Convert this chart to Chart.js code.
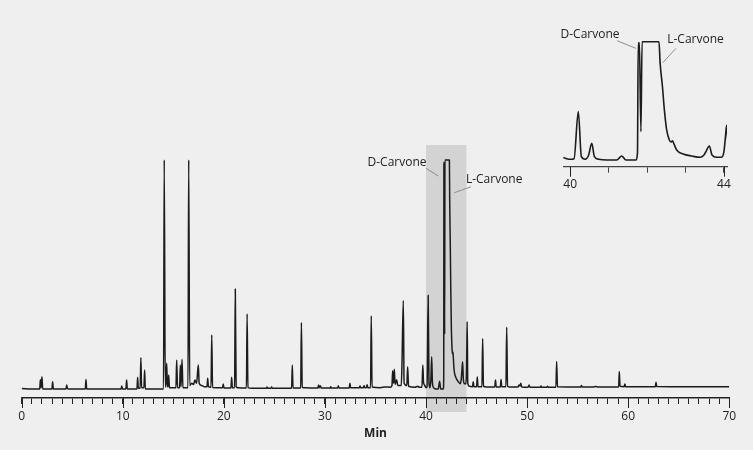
<!DOCTYPE html>
<html>
<head>
<meta charset="utf-8">
<script src="https://cdn.jsdelivr.net/npm/chart.js@4.4.0/dist/chart.umd.min.js"></script>
<style>
  html, body { margin: 0; padding: 0; background: #efefef; }
  #wrap { position: relative; width: 753px; height: 450px; }
  #main { position: absolute; left: 0; top: 0; }
  #inset { position: absolute; left: 540px; top: 0; }
</style>
</head>
<body>
<div id="wrap">
  <canvas id="main" width="753" height="450"></canvas>
  <canvas id="inset" width="213" height="200"></canvas>
</div>
<script>
// chromatogram trace (time in min, signal in % of clipped top)
const timeEarly = [0, 1.0, 1.78, 1.85, 1.92, 2.0, 2.08, 2.99, 3.06, 3.13, 4.38, 4.45, 4.52, 4.6, 6.29, 6.36, 6.43,
  9.83, 9.9, 9.97, 10.31, 10.38, 10.45, 11.4, 11.47, 11.54, 11.72, 11.79, 11.86, 12.09, 12.16, 12.23, 13.95];
const signalEarly = [0.2, 0, 0, 4.0, 0.5, 5.4, 0, 0, 3.2, 0, 0, 1.7, 0.3, 0, 0, 4.2, 0,
  0, 1.3, 0, 0, 3.9, 0, 0, 5.1, 0.3, 0.3, 13.7, 0.5, 0.5, 8.3, 0, 0];

const timeMid = [14.03, 14.1, 14.2, 14.27, 14.34, 14.42, 14.48, 14.54, 14.62, 15.26, 15.33, 15.42, 15.62, 15.69, 15.76,
  15.86, 15.95, 16.45, 16.52, 16.62, 16.82, 17.0, 17.14, 17.3, 17.47, 17.56, 17.8, 18.1, 18.33, 18.4, 18.47,
  18.73, 18.8, 18.88, 19.87, 19.94, 20.01, 20.7, 20.77, 20.84, 21.06, 21.13, 21.21, 21.4, 22.23, 22.3, 22.38, 22.8,
  24.2, 24.27, 24.34, 24.65, 24.72, 24.79, 26.7, 26.77, 26.84, 27.6, 27.67, 27.75, 28.0,
  29.3, 29.37, 29.44, 29.55, 29.62, 30.5, 30.57, 30.64, 31.25, 31.32, 31.39, 32.4, 32.47, 32.54,
  33.4, 33.47, 33.54, 33.8, 33.87, 33.94, 34.1, 34.17, 34.24, 34.51, 34.58, 34.66, 35.5, 35.9,
  36.5, 36.63, 36.7, 36.78, 36.86, 36.94, 37.1, 37.2, 37.55, 37.62, 37.75, 37.83, 38.1, 38.18, 38.27,
  38.9, 39.2, 39.3, 39.6, 39.68, 39.75];
const signalMid = [0, 100, 1, 1, 11.2, 1, 1, 6.1, 0.5, 0.5, 12.7, 0.5, 0.5, 10.5, 1,
  13, 0.5, 0.5, 100, 1.5, 2.5, 2, 3.9, 2.5, 10.5, 2.5, 1.5, 1, 1, 4.7, 1,
  0.8, 23.6, 0.6, 0.5, 2.2, 0.4, 0.4, 5.1, 0.5, 0.5, 43.7, 1, 0.5, 0.4, 32.8, 0.6, 0.3,
  0.3, 0.9, 0.3, 0.3, 0.9, 0.3, 0.3, 10.5, 0.4, 0.4, 29, 0.8, 0.5,
  0.4, 1.8, 0.5, 1.4, 0.4, 0.4, 1.0, 0.4, 0.4, 1.4, 0.4, 0.4, 2.5, 0.5,
  0.5, 1.3, 0.5, 0.5, 1.5, 0.6, 0.6, 1.9, 0.6, 0.6, 31.9, 0.9, 0.6, 0.9,
  0.8, 1.5, 8, 2.5, 8.6, 2, 4, 1.5, 1.5, 11, 38.6, 2.5, 1.5, 9.7, 1.2,
  0.8, 1.2, 0.8, 0.8, 10.5, 3];

const timeCarvone = [39.83, 40.0, 40.1, 40.21, 40.29, 40.39, 40.48, 40.56, 40.63, 40.74, 40.95, 41.21, 41.34, 41.45,
  41.71, 41.75, 41.77, 41.8, 41.84, 41.87, 42.31, 42.34, 42.4, 42.45, 42.51, 42.58, 42.63, 42.66, 42.7, 42.77,
  42.94, 43.16, 43.38, 43.48, 43.53, 43.62, 43.69, 43.81, 43.94, 44.0, 44.04, 44.07, 44.13];
const signalCarvone = [1.9, 0.6, 1.1, 40.9, 2.8, 0.6, 4.2, 14.1, 2.8, 0.6, 0, 0, 3.4, 0,
  0, 5.6, 99, 99, 24, 100, 100, 81.9, 62.1, 42.4, 25.4, 16.9, 15.2, 16.2, 13.6, 8.5,
  5.1, 3.4, 2.3, 4.2, 7, 11.9, 4.2, 2.3, 2.3, 7, 19.7, 29.4, 2.5];

const timeLate = [44.3, 44.6, 44.67, 44.74, 45.0, 45.07, 45.14, 45.53, 45.6, 45.68, 46.0, 46.8, 46.87, 46.94,
  47.35, 47.42, 47.49, 47.9, 47.98, 48.06, 48.3, 49.1, 49.2, 49.3, 49.37, 49.46, 50.1, 50.19, 50.28,
  51.3, 51.37, 51.44, 51.95, 52.02, 52.09, 52.85, 52.92, 53.0, 55.3, 55.37, 55.44, 56.5, 56.8, 57.0,
  59.05, 59.12, 59.19, 59.6, 59.67, 59.74, 62.68, 62.75, 62.82, 66, 70];
const signalLate = [1.2, 1, 3.2, 1, 1, 5.2, 1, 1, 22, 1.2, 0.9, 0.9, 3.9, 0.9,
  0.9, 4.2, 1, 1, 27, 1.2, 0.9, 0.9, 1.7, 1.3, 2.5, 0.9, 0.8, 1.7, 0.8,
  0.8, 1.3, 0.8, 0.8, 1.2, 0.8, 0.8, 12, 1, 0.9, 1.5, 0.9, 0.9, 1.1, 0.9,
  0.9, 7.6, 1.2, 1, 2.2, 1, 1, 2.9, 1.1, 1, 1];

const mainTicks = [0, 10, 20, 30, 40, 50, 60, 70];
const insetTicks = [40, 44];
const zoomWindow = [40, 44];

const allTime = timeEarly.concat(timeMid, timeCarvone, timeLate);
const allSignal = signalEarly.concat(signalMid, signalCarvone, signalLate);
const trace = allTime.map((t, i) => ({ x: t, y: allSignal[i] }));

const FONT = '"Open Sans", "Noto Sans", sans-serif';
const INK = '#222';

const calloutPlugin = {
  id: 'callouts',
  afterDatasetsDraw(chart, args, opts) {
    const { ctx, scales: { x, y } } = chart;
    ctx.save();
    (opts.items || []).forEach(it => {
      ctx.strokeStyle = '#8e8e8e';
      ctx.lineWidth = 1;
      ctx.beginPath();
      ctx.moveTo(x.getPixelForValue(it.line[0]), y.getPixelForValue(it.line[1]));
      ctx.lineTo(x.getPixelForValue(it.line[2]), y.getPixelForValue(it.line[3]));
      ctx.stroke();
      ctx.fillStyle = INK;
      ctx.font = '12px ' + FONT;
      ctx.textAlign = 'center';
      ctx.textBaseline = 'middle';
      ctx.fillText(it.text, x.getPixelForValue(it.at[0]), y.getPixelForValue(it.at[1]));
    });
    ctx.restore();
  }
};

// longer tick marks at the labelled values
const majorTickPlugin = {
  id: 'majorTicks',
  afterDraw(chart, args, opts) {
    const { ctx, chartArea, scales: { x } } = chart;
    ctx.save();
    ctx.strokeStyle = INK;
    ctx.lineWidth = 1;
    (opts.values || []).forEach(v => {
      const px = Math.round(x.getPixelForValue(v)) + 0.5;
      ctx.beginPath();
      ctx.moveTo(px, chartArea.bottom);
      ctx.lineTo(px, chartArea.bottom + opts.length);
      ctx.stroke();
    });
    ctx.restore();
  }
};

const shadePlugin = {
  id: 'shade',
  beforeDraw(chart, args, opts) {
    if (!opts.range) return;
    const { ctx, chartArea, scales: { x, y } } = chart;
    const x0 = x.getPixelForValue(opts.range[0]);
    const x1 = x.getPixelForValue(opts.range[1]);
    const y0 = y.getPixelForValue(opts.top);
    ctx.save();
    ctx.fillStyle = '#d3d3d3';
    ctx.fillRect(x0, y0, x1 - x0, chartArea.bottom + 14 - y0);
    ctx.restore();
  }
};

function lineDataset(width) {
  return {
    data: trace,
    borderColor: '#1c1c1c',
    borderWidth: width,
    borderJoinStyle: 'round',
    pointRadius: 0,
    cubicInterpolationMode: 'monotone',
    fill: false
  };
}

new Chart(document.getElementById('main'), {
  type: 'line',
  data: { datasets: [lineDataset(1.5)] },
  plugins: [shadePlugin, calloutPlugin, majorTickPlugin],
  options: {
    responsive: false,
    animation: false,
    layout: { padding: { left: 21.7, right: 23.7, top: 130, bottom: 0 } },
    scales: {
      x: {
        type: 'linear',
        min: 0, max: 70,
        afterFit: s => { s.height = 52; },
        border: { display: true, color: INK, width: 1.5 },
        grid: { drawOnChartArea: false, drawTicks: true, tickLength: 6, tickColor: INK, tickWidth: 1 },
        ticks: {
          stepSize: 1, maxTicksLimit: 200, autoSkip: false, maxRotation: 0, includeBounds: false,
          padding: 5, color: INK, font: { family: FONT, size: 12 },
          callback: v => (mainTicks.includes(v) ? String(v) : '')
        },
        title: { display: true, text: 'Min', color: INK, font: { family: FONT, size: 12, weight: 'bold' },
          padding: { top: 0, bottom: 9 } }
      },
      y: { display: false, min: -3.93, max: 113.1 }
    },
    plugins: {
      legend: { display: false },
      tooltip: { enabled: false },
      shade: { range: zoomWindow, top: 106.55 },
      majorTicks: { values: mainTicks, length: 10 },
      callouts: {
        items: [
          { text: 'D-Carvone', at: [37.13, 98.8], line: [40.0, 96.4, 41.21, 93.0] },
          { text: 'L-Carvone', at: [46.74, 91.3], line: [44.45, 88.3, 42.79, 85.7] }
        ]
      }
    }
  }
});

new Chart(document.getElementById('inset'), {
  type: 'line',
  data: { datasets: [lineDataset(1.6)] },
  plugins: [calloutPlugin, majorTickPlugin],
  options: {
    responsive: false,
    animation: false,
    layout: { padding: { left: 23.3, right: 26, top: 30, bottom: 0 } },
    scales: {
      x: {
        type: 'linear',
        min: 39.82, max: 44.08,
        afterFit: s => { s.height = 33.3; },
        border: { display: true, color: '#444', width: 1.3 },
        grid: { drawOnChartArea: false, drawTicks: true, tickLength: 6, tickColor: '#444', tickWidth: 1 },
        ticks: {
          stepSize: 1, autoSkip: false, maxRotation: 0, includeBounds: false,
          padding: 5, color: INK, font: { family: FONT, size: 12 },
          callback: v => (insetTicks.includes(v) ? String(v) : '')
        }
      },
      y: { display: false, min: -5.66, max: 109.9 }
    },
    plugins: {
      legend: { display: false },
      tooltip: { enabled: false },
      majorTicks: { values: insetTicks, length: 10 },
      callouts: {
        items: [
          { text: 'D-Carvone', at: [40.515, 105.7], line: [41.22, 100.8, 41.71, 94.4] },
          { text: 'L-Carvone', at: [43.26, 101.4], line: [42.75, 94.4, 42.41, 82.2] }
        ]
      }
    }
  }
});
</script>
</body>
</html>
